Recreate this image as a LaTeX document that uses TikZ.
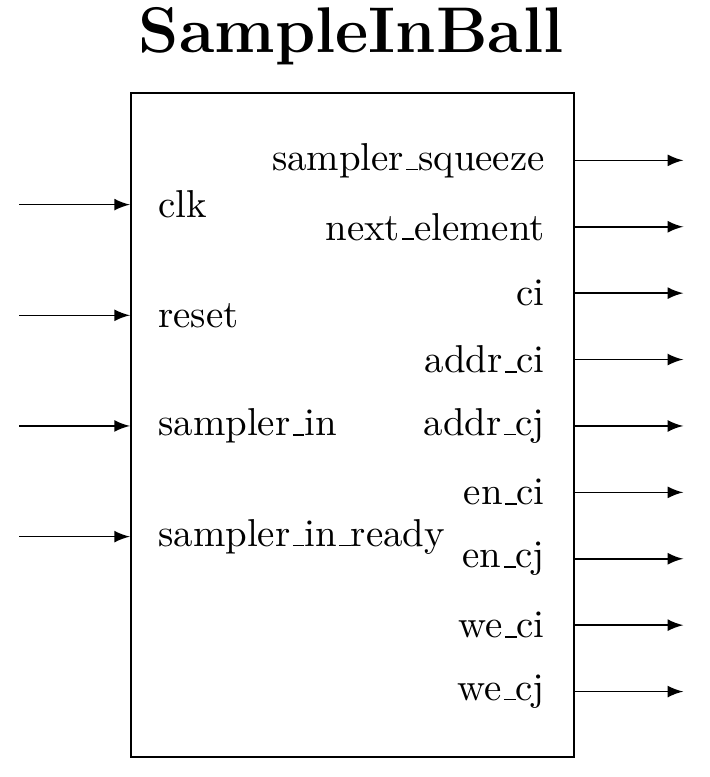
\documentclass[tikz,border=0pt]{standalone}
\usepackage{tikz}
\newcommand{\usc}{\leavevmode\kern.06em\vbox{\hrule width.3em}}
\begin{document}
\begin{tikzpicture}[
  sig/.style={-latex},
  inlbl/.style={anchor=west,inner sep=0pt},
  outlbl/.style={anchor=east,inner sep=0pt}]
  \useasboundingbox (-1.174,-0.172) rectangle (5.236,6.849);
  \node[draw,semithick,anchor=south west,inner sep=0pt,
    minimum width=4cm,minimum height=6cm] (blk) at (0,0) {};
  \node[anchor=base,font=\fontsize{16.6}{20}\selectfont\bfseries] (title) at (2,6.379) {SampleInBall};
  % inputs
  \foreach \lbl [count=\i] in {clk,reset,sampler\usc in,sampler\usc in\usc ready}{
    \coordinate (src\i) at (-1,6-\i);
    \node[inlbl] (in\i) at (0.25,6-\i) {\lbl};
    \draw[sig] (src\i) -- (src\i -| blk.west);
  }
  % outputs
  \foreach \lbl [count=\i] in {sampler\usc squeeze,next\usc element,ci,addr\usc ci,
      addr\usc cj,en\usc ci,en\usc cj,we\usc ci,we\usc cj}{
    \coordinate (dst\i) at (5,6-0.6*\i);
    \node[outlbl] (out\i) at (3.755,6-0.6*\i) {\lbl};
    \draw[sig] (dst\i -| blk.east) -- (dst\i);
  }
\end{tikzpicture}
\end{document}
